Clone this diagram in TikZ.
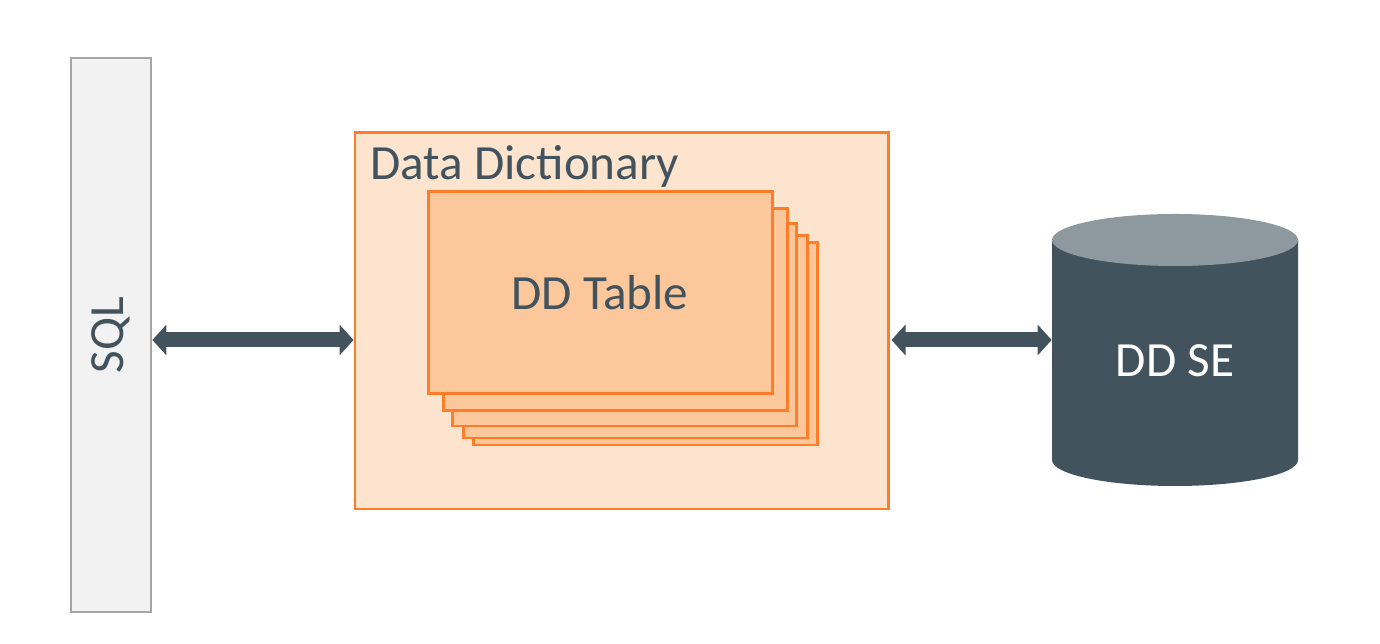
\documentclass[tikz,border=0pt]{standalone}
\usepackage{fontspec}
\setmainfont{Carlito}
\usetikzlibrary{arrows.meta}
\definecolor{ddorange}{HTML}{FF7D29}
\definecolor{ddlight}{HTML}{FDE4CE}
\definecolor{ddtable}{HTML}{FCC89B}
\definecolor{dddark}{HTML}{42535E}
\definecolor{ddtop}{HTML}{8E999F}
\definecolor{sqlfill}{HTML}{F2F2F2}
\definecolor{sqlline}{HTML}{A6A6A6}
\begin{document}
\begin{tikzpicture}[every node/.style={font=\fontsize{28}{32}\selectfont, text=dddark},
		bar/.style={rectangle, draw=sqlline, fill=sqlfill, line width=1.6pt, minimum width=1.6cm, minimum height=11.08cm},
		box/.style={rectangle, draw=ddorange, fill=ddlight, line width=1.7pt, minimum width=10.66cm, minimum height=7.52cm},
		sheet/.style={rectangle, draw=ddorange, fill=ddtable, line width=1.7pt, minimum width=6.88cm, minimum height=4.04cm},
		link/.style={draw=dddark, line width=0.3cm, {Triangle[length=0.28cm,width=0.6cm]}-{Triangle[length=0.28cm,width=0.6cm]}}]
		\useasboundingbox (0,0) rectangle (27.6,12.88);
		\node (sql) [bar] at (2.22,6.18) {};
		\node [rotate=90] at (sql.center) {SQL};
		\node (dd) [box] at (12.43,6.46) {};
		\node [anchor=base west, inner sep=0pt] at (7.40,9.28) {Data Dictionary};
		
		% stacked sheets, back to front
		\foreach \dx/\dy in {0.90/-1.02, 0.70/-0.88, 0.48/-0.64, 0.30/-0.34}
			\node [sheet] at (12.00+\dx,7.02+\dy) {};
		\node (table) [sheet] at (12.00,7.02) {DD Table};
		
		% cylinder
		\fill [dddark] (21.04,8.08) -- (21.04,3.68) arc (180:360:2.46 and 0.52) -- (25.96,8.08) -- cycle;
		\fill [ddtop] (23.50,8.08) ellipse (2.46 and 0.52);
		\node (ddse) [minimum width=4.92cm, text=white] at (23.50,5.66) {DD SE};
		
		\coordinate (mid) at (0,6.08);
		\draw [link] (sql.east |- mid) -- (dd.west |- mid);
		\draw [link] ([xshift=0.04cm]dd.east |- mid) -- (ddse.west |- mid);
	\end{tikzpicture}
\end{document}
